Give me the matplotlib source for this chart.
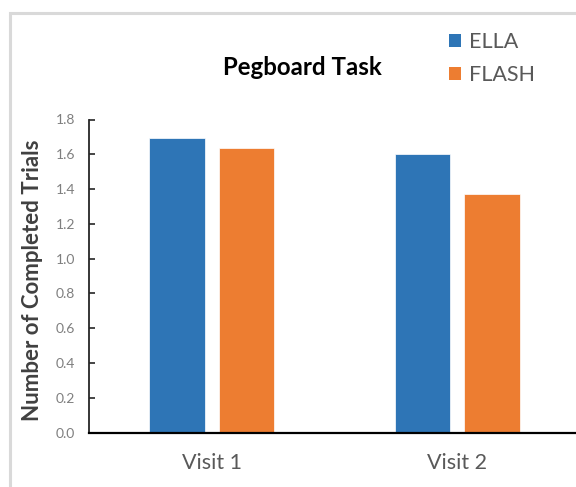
import matplotlib
matplotlib.use("Agg")
import matplotlib.pyplot as plt
from matplotlib.patches import Rectangle, Patch
import numpy as np

plt.rcParams['font.family'] = ['Lato', 'DejaVu Sans']

# Data
visits = ["Visit 1", "Visit 2"]
ella = [1.695, 1.60]
flash = [1.634, 1.372]
series_names = ["ELLA", "FLASH"]
colors = ["#2E75B6", "#ED7D31"]
y_ticks = [0.0, 0.2, 0.4, 0.6, 0.8, 1.0, 1.2, 1.4, 1.6, 1.8]

W, H = 576, 487
fig = plt.figure(figsize=(W / 100, H / 100), dpi=100)

# Light frame around the chart area
fig.add_artist(Rectangle((10 / W, -0.1), 2.0, 1.1 - 13 / H,
                         transform=fig.transFigure, fill=False,
                         edgecolor="#d9d9d9", linewidth=2.2, zorder=0))

ax_left, ax_right = 89 / W, 580 / W
ax_bottom, ax_top = (H - 432.5) / H, (H - 119.5) / H
ax = fig.add_axes([ax_left, ax_bottom, ax_right - ax_left, ax_top - ax_bottom])
ax.set_facecolor("none")

x = np.arange(len(visits))
bw = 0.2245
off = 0.1416
ax.bar(x - off, ella, width=bw, color=colors[0], edgecolor="white", linewidth=0.5, label=series_names[0])
ax.bar(x + off, flash, width=bw, color=colors[1], edgecolor="white", linewidth=0.5, label=series_names[1])

ax.set_xlim(-0.5, 1.5)
ax.set_ylim(0, 1.8)
ax.set_yticks(y_ticks)
ax.set_yticklabels([f"{v:.1f}" for v in y_ticks])
ax.set_xticks(x)
ax.set_xticklabels(visits)

for s in ["top", "right"]:
    ax.spines[s].set_visible(False)
ax.spines["left"].set_linewidth(1.3)
ax.spines["left"].set_color("#262626")
ax.spines["bottom"].set_linewidth(1.6)
ax.spines["bottom"].set_color("black")

ax.tick_params(axis="y", direction="in", length=4.5, width=1.2, color="#262626",
               labelsize=10, labelcolor="#7f7f7f", pad=10)
ax.tick_params(axis="x", length=0, labelsize=15.5, labelcolor="#595959", pad=14.5)

ax.set_ylabel("Number of Completed Trials", fontsize=16, fontweight="bold",
              color="#404040", va="center")
ax.yaxis.set_label_coords((33 - 89) / (580 - 89), (432.5 - 280) / 313)

fig.text(302 / W, (H - 75) / H, "Pegboard Task", ha="center", va="baseline",
         fontsize=17.3, fontweight="bold", color="black")

handles = [Patch(facecolor=c, edgecolor="none") for c in colors]
fig.legend(handles, series_names, loc="upper left",
           bbox_to_anchor=(449 / W, 1 - 32 / H), frameon=False,
           fontsize=15.5, labelcolor="#595959", handlelength=0.56, handleheight=0.56,
           handletextpad=0.35, labelspacing=0.62, borderaxespad=0, borderpad=0)

fig.savefig("out.png", dpi=100)
